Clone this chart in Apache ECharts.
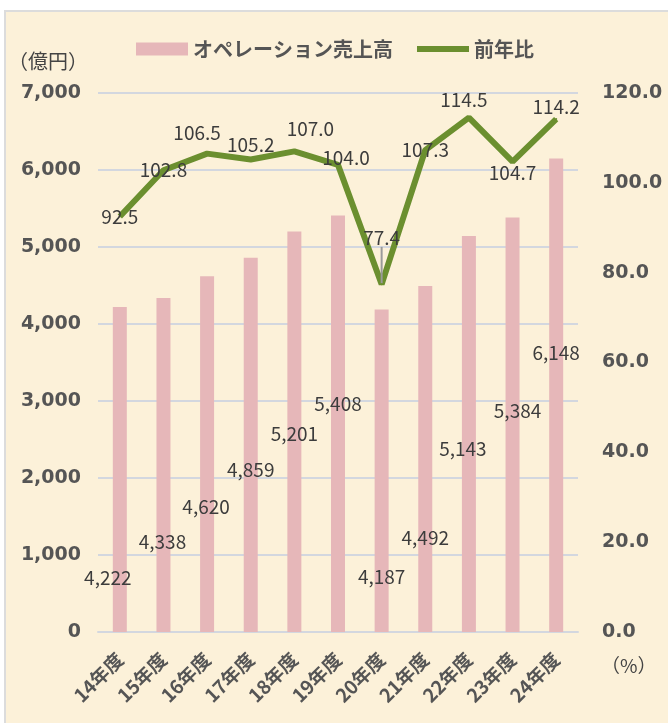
<!DOCTYPE html>
<html>
<head>
<meta charset="utf-8">
<script src="https://cdn.jsdelivr.net/npm/echarts@6/dist/echarts.min.js"></script>
<style>
  html, body { margin: 0; padding: 0; background: #ffffff; }
  #frame {
    position: absolute; left: 4px; top: 10px; width: 664px; height: 713px;
    background: #fcf1d9; border-left: 2px solid #dcdcdc; border-top: 2px solid #dcdcdc;
  }
  #main { position: absolute; left: 0; top: 0; width: 668px; height: 723px; }
</style>
</head>
<body>
<div id="frame"></div>
<div id="main"></div>
<script>
var years = ['14年度', '15年度', '16年度', '17年度', '18年度', '19年度', '20年度', '21年度', '22年度', '23年度', '24年度'];
var sales = [4222, 4338, 4620, 4859, 5201, 5408, 4187, 4492, 5143, 5384, 6148];
var yoy = [92.5, 102.8, 106.5, 105.2, 107.0, 104.0, 77.4, 107.3, 114.5, 104.7, 114.2];

// label nudges (px)
var barLabelShift = [[-12, -45], [-1, -81], [-1, -116], [0, -153], [0, -189], [0, -219],
                     [0, -46], [0, -85], [-6, -174], [5, -212], [0, -270]];
var lineLabelShift = [[0, 0], [0, 0], [-10, -21], [0, -15], [16, -23], [8, -7],
                      [0, -47], [0, 0], [-5, -18], [0, 11], [0, -12]];

var chart = echarts.init(document.getElementById('main'));

var numText = { color: '#555', fontSize: 19, fontWeight: 'bold', fontFamily: 'DejaVu Sans' };
var catText = { color: '#555', fontSize: 19, fontWeight: 'bold', fontFamily: 'Noto Sans CJK JP' };
var valText = { color: '#3c3c3c', fontSize: 19, fontFamily: 'Noto Sans CJK JP' };
var green = '#6b8f2f';

chart.setOption({
    backgroundColor: 'transparent',
    textStyle: { fontFamily: 'Noto Sans CJK JP' },
    title: [
        { text: '（億円）', left: 3, top: 46, textStyle: { color: '#444', fontSize: 20, fontWeight: 'normal' } },
        { text: '（%）', left: 596, top: 651, textStyle: { color: '#444', fontSize: 19, fontWeight: 'normal' } }
    ],
    legend: {
        left: 131, top: 34,
        itemWidth: 52, itemHeight: 13, itemGap: 24,
        textStyle: { color: '#555', fontSize: 20, fontWeight: 'bold' },
        data: [
            { name: 'オペレーション売上高', icon: 'rect' },
            { name: '前年比', icon: 'path://M0,0 L52,0 L52,6 L0,6 Z' }
        ]
    },
    grid: { left: 98, right: 90, top: 93, bottom: 91 },
    xAxis: {
        type: 'category',
        data: years,
        axisLine: { lineStyle: { color: '#d3d7df', width: 2 } },
        axisTick: { show: false },
        axisLabel: Object.assign({ rotate: 45, margin: 24, interval: 0 }, catText)
    },
    yAxis: [
        {
            type: 'value', min: 0, max: 7000, interval: 1000,
            axisLine: { show: false }, axisTick: { show: false },
            splitLine: { lineStyle: { color: '#d3d7df', width: 2 } },
            axisLabel: Object.assign({ margin: 17, formatter: function (v) { return v.toLocaleString('en-US'); } }, numText)
        },
        {
            type: 'value', min: 0, max: 120, interval: 20,
            axisLine: { show: false }, axisTick: { show: false },
            splitLine: { show: false },
            axisLabel: Object.assign({ margin: 24, formatter: function (v) { return v.toFixed(1); } }, numText)
        }
    ],
    series: [
        {
            name: 'オペレーション売上高',
            type: 'bar',
            barWidth: 14,
            itemStyle: { color: '#e6b7b9' },
            data: sales.map(function (v, i) {
                return { value: v, label: { offset: barLabelShift[i] } };
            }),
            label: Object.assign({
                show: true, position: 'insideBottom', distance: 0,
                formatter: function (p) { return p.value.toLocaleString('en-US'); }
            }, valText),
            z: 2
        },
        {
            name: '前年比',
            type: 'line',
            yAxisIndex: 1,
            symbol: 'circle',
            symbolSize: 2,
            showSymbol: true,
            lineStyle: { color: green, width: 6 },
            itemStyle: { color: green },
            data: yoy.map(function (v, i) {
                return { value: v, labelLine: { show: i === 6 } };
            }),
            label: Object.assign({
                show: true, position: 'inside',
                formatter: function (p) { return p.value.toFixed(1); }
            }, valText),
            labelLine: { show: false, lineStyle: { color: '#9a9a9a', width: 2 } },
            labelLayout: function (p) {
                return { dx: lineLabelShift[p.dataIndex][0], dy: lineLabelShift[p.dataIndex][1] };
            },
            z: 3
        }
    ]
});
</script>
</body>
</html>
